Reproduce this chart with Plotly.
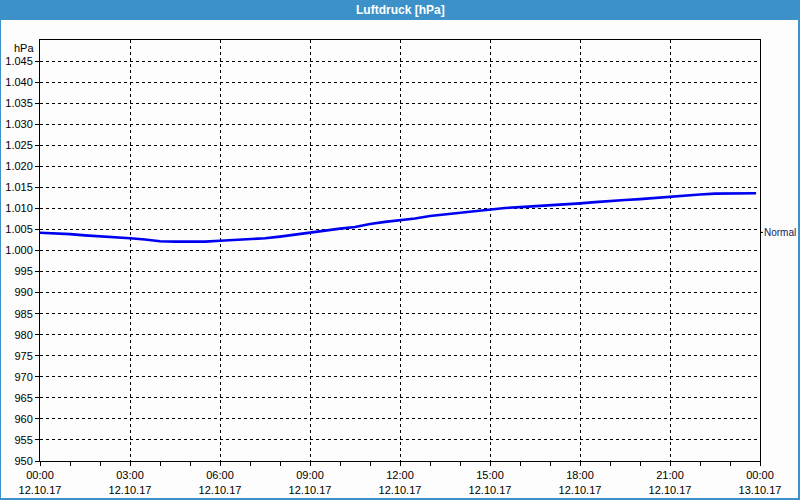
import plotly.graph_objects as go

# Data: hours since 12.10.17 00:00 and pressure in hPa
hours = [0, 0.5, 1, 1.5, 2, 2.5, 3, 3.5, 4, 4.5, 5, 5.5, 6, 6.5, 7, 7.5, 8, 8.5,
         9, 9.5, 10, 10.5, 11, 11.5, 12, 12.5, 13, 13.5, 14, 14.5, 15, 15.5, 16,
         16.5, 17, 17.5, 18, 18.5, 19, 19.5, 20, 20.5, 21, 21.5, 22, 22.5, 23,
         23.5, 23.87]
pressure = [1004.2, 1004.1, 1003.9, 1003.6, 1003.4, 1003.1, 1002.9, 1002.6, 1002.2,
            1002.1, 1002.1, 1002.1, 1002.3, 1002.5, 1002.7, 1002.9, 1003.3, 1003.8,
            1004.3, 1004.8, 1005.2, 1005.6, 1006.3, 1006.8, 1007.2, 1007.6, 1008.2,
            1008.6, 1009.0, 1009.4, 1009.7, 1010.1, 1010.3, 1010.5, 1010.8, 1011.0,
            1011.2, 1011.5, 1011.8, 1012.0, 1012.2, 1012.5, 1012.7, 1013.1, 1013.3,
            1013.5, 1013.6, 1013.6, 1013.6]

x_tick_vals = [0, 3, 6, 9, 12, 15, 18, 21, 24]
x_tick_times = ["00:00", "03:00", "06:00", "09:00", "12:00", "15:00", "18:00", "21:00", "00:00"]
x_tick_dates = ["12.10.17"] * 8 + ["13.10.17"]
y_tick_vals = list(range(950, 1050, 5))
y_tick_text = [("1.%03d" % (v - 1000)) if v >= 1000 else str(v) for v in y_tick_vals]

normal_value = 1004.3

BG = "#fcfdfc"
BAR = "#3c91c8"
FONT = "Liberation Sans"

fig = go.Figure()
fig.add_trace(go.Scatter(x=hours, y=pressure, mode="lines",
                         line=dict(color="#0000f0", width=2.6),
                         hoverinfo="skip", showlegend=False))

fig.update_layout(
    width=800, height=500,
    margin=dict(l=40, r=40, t=40, b=39, autoexpand=False),
    paper_bgcolor=BG, plot_bgcolor=BG,
    font=dict(family=FONT, size=11, color="#000000"),
    showlegend=False,
)
fig.update_xaxes(
    range=[0, 24], tickmode="array", tickvals=x_tick_vals,
    ticktext=[t + "<br>" + d for t, d in zip(x_tick_times, x_tick_dates)],
    showgrid=True, gridcolor="#000000", gridwidth=1, griddash="dot",
    showline=True, linecolor="#000000", linewidth=1, mirror=True,
    ticks="outside", ticklen=4, tickcolor="#000000",
    minor=dict(dtick=1, tick0=0, ticks="outside", ticklen=4, tickcolor="#000000", showgrid=False),
    zeroline=False, fixedrange=True, automargin=False,
)
fig.update_yaxes(
    range=[950, 1050], tickmode="array", tickvals=y_tick_vals, ticktext=y_tick_text,
    showgrid=True, gridcolor="#000000", gridwidth=1, griddash="dot",
    showline=True, linecolor="#000000", linewidth=1, mirror=True,
    ticks="outside", ticklen=4, tickcolor="#000000",
    zeroline=False, fixedrange=True, automargin=False,
)

# Window chrome: title bar and border
W, H = 720.0, 421.0
def px_x(p):
    return (p - 40) / W
def px_y(p):
    return (461 - p) / H

fig.add_shape(type="rect", xref="paper", yref="paper",
              x0=px_x(0), x1=px_x(800), y0=px_y(20), y1=px_y(0),
              fillcolor=BAR, line=dict(width=0), layer="below")
for (a, b, c, d) in [(0, 1, 0, 500), (798, 800, 0, 500)]:
    fig.add_shape(type="rect", xref="paper", yref="paper",
                  x0=px_x(a), x1=px_x(b), y0=px_y(d), y1=px_y(c),
                  fillcolor=BAR, line=dict(width=0), layer="below")
fig.add_shape(type="rect", xref="paper", yref="paper",
              x0=px_x(0), x1=px_x(800), y0=px_y(500), y1=px_y(498),
              fillcolor=BAR, line=dict(width=0), layer="below")

fig.add_annotation(xref="paper", yref="paper", x=0.5, y=px_y(10),
                   text="<b>Luftdruck [hPa]</b>", showarrow=False,
                   font=dict(family=FONT, size=12, color="#ffffff"),
                   xanchor="center", yanchor="middle")

fig.add_annotation(xref="paper", yref="paper", x=0, y=1, xshift=-4,
                   text="hPa", showarrow=False, xanchor="right", yanchor="top",
                   font=dict(family=FONT, size=11, color="#000000"))

# Normal marker on the right axis
fig.add_shape(type="line", xref="paper", yref="y", x0=1, x1=px_x(763),
              y0=normal_value, y1=normal_value, line=dict(color="#000000", width=1))
fig.add_annotation(xref="paper", yref="y", x=px_x(762), y=normal_value,
                   text="Normal", showarrow=False, xanchor="left", yanchor="middle",
                   font=dict(family=FONT, size=10, color="#1a1a60"))

fig.write_html("out.html")
